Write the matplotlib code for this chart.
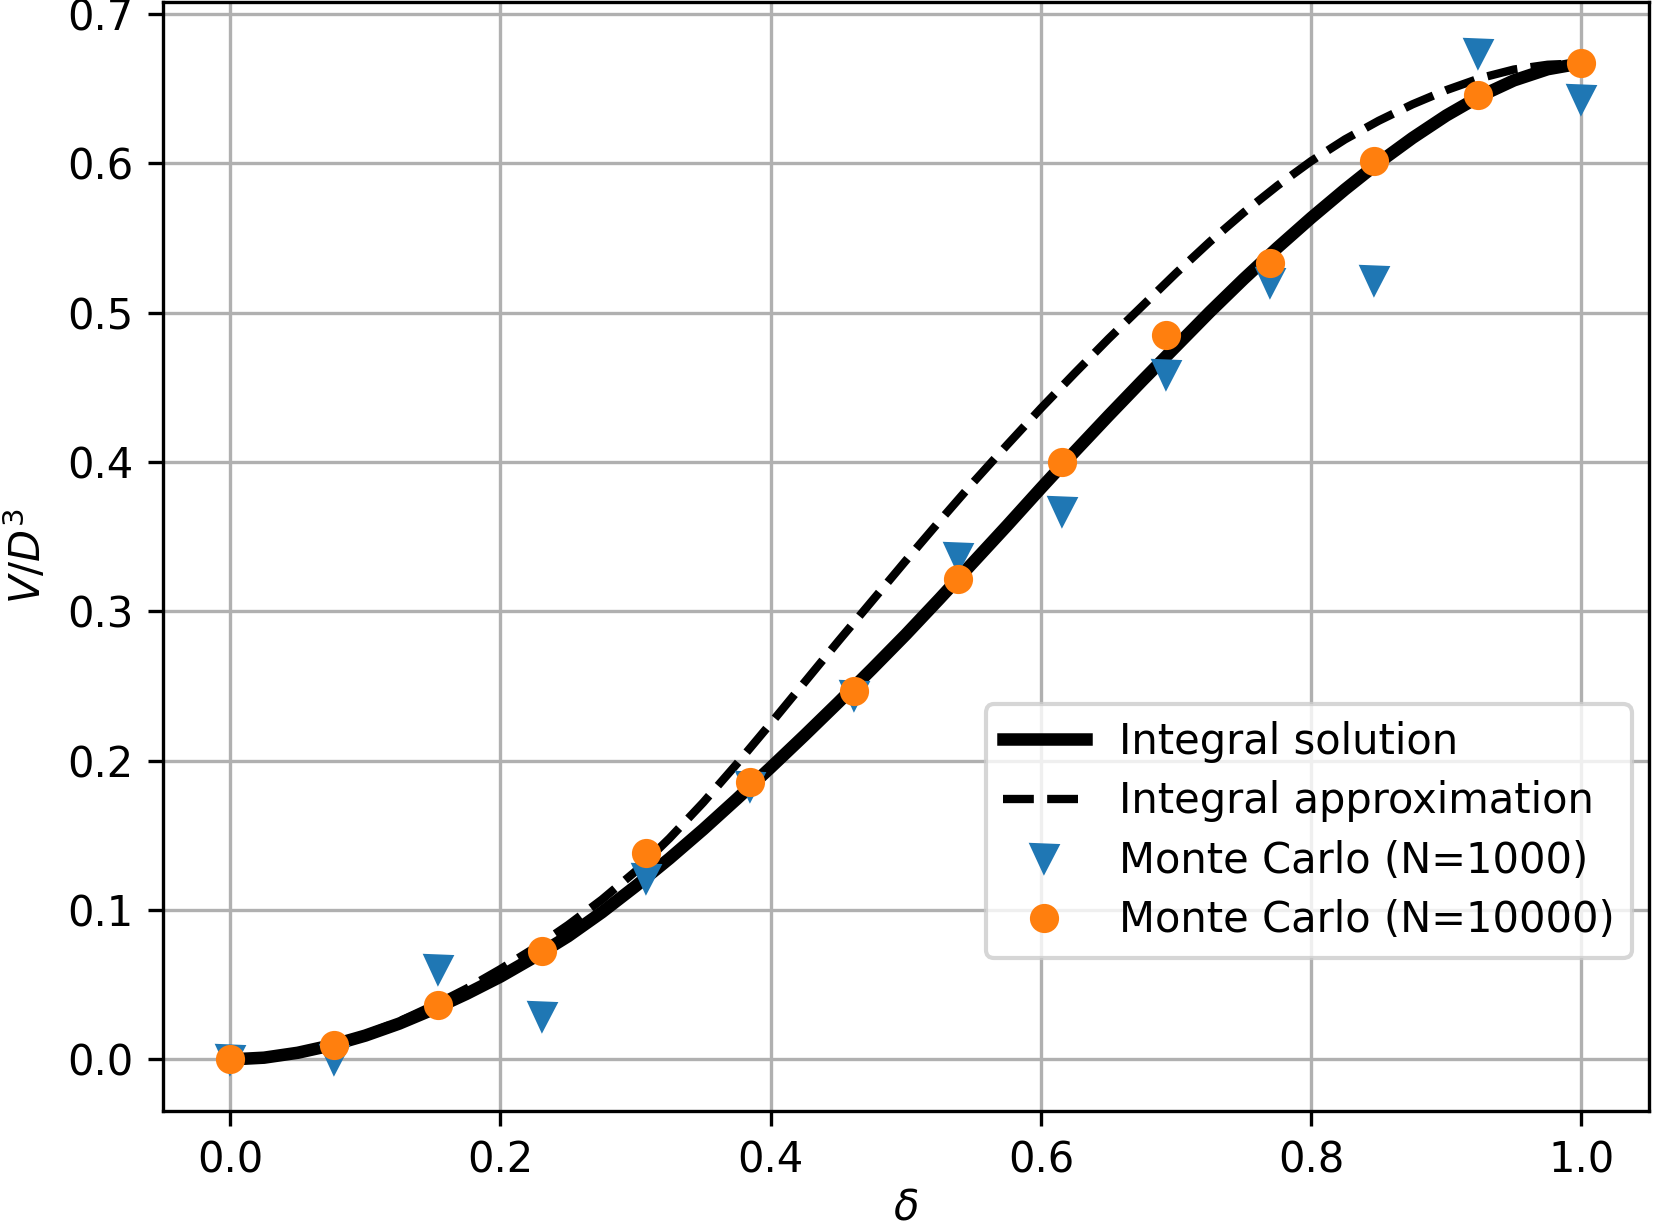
import matplotlib
matplotlib.use("Agg")
import matplotlib.pyplot as plt

# Curve samples
delta_curve = [0.0, 0.025, 0.05, 0.075, 0.1, 0.125, 0.15, 0.175, 0.2, 0.225,
               0.25, 0.275, 0.3, 0.325, 0.35, 0.375, 0.4, 0.425, 0.45, 0.475,
               0.5, 0.525, 0.55, 0.575, 0.6, 0.625, 0.65, 0.675, 0.7, 0.725,
               0.75, 0.775, 0.8, 0.825, 0.85, 0.875, 0.9, 0.925, 0.95, 0.975,
               1.0]
integral_solution = [0.0, 0.0012, 0.0045, 0.0095, 0.0160, 0.0240, 0.0335,
                     0.0440, 0.0555, 0.0685, 0.0825, 0.0985, 0.1160, 0.1345,
                     0.1540, 0.1745, 0.1955, 0.2170, 0.2390, 0.2615, 0.2845,
                     0.3085, 0.3330, 0.3575, 0.3825, 0.4070, 0.4310, 0.4545,
                     0.4775, 0.5005, 0.5225, 0.5435, 0.5635, 0.5825, 0.6005,
                     0.6170, 0.6320, 0.6450, 0.6555, 0.6630, 0.6670]
integral_approx = [0.0, 0.0012, 0.0046, 0.0098, 0.0168, 0.0255, 0.0360,
                   0.0475, 0.0605, 0.0745, 0.0900, 0.1070, 0.1260, 0.1480,
                   0.1720, 0.1980, 0.2250, 0.2525, 0.2800, 0.3070, 0.3340,
                   0.3605, 0.3865, 0.4115, 0.4360, 0.4595, 0.4825, 0.5045,
                   0.5265, 0.5475, 0.5670, 0.5850, 0.6015, 0.6160, 0.6285,
                   0.6395, 0.6490, 0.6570, 0.6628, 0.6660, 0.6670]

# Monte Carlo samples
delta_mc = [0.0, 0.0769, 0.1538, 0.2308, 0.3077, 0.3846, 0.4615, 0.5385,
            0.6154, 0.6923, 0.7692, 0.8462, 0.9231, 1.0]
mc_1000 = [0.0, 0.0, 0.0603, 0.0292, 0.1213, 0.1833, 0.244, 0.3362,
           0.3672, 0.4592, 0.5206, 0.5216, 0.6738, 0.643]
mc_10000 = [0.0, 0.0097, 0.0363, 0.0726, 0.138, 0.186, 0.2469, 0.3217,
            0.4003, 0.4851, 0.5331, 0.6018, 0.6458, 0.667]

fig = plt.figure(figsize=(1653 / 300, 1227 / 300), dpi=300)
ax = fig.add_axes([162.7 / 1653, 1 - 1110.7 / 1227,
                   (1649 - 162.7) / 1653, (1110.7 - 2) / 1227])

ax.plot(delta_curve, integral_solution, color="black", lw=3,
        label="Integral solution")
ax.plot(delta_curve, integral_approx, color="black", lw=2, ls="--",
        label="Integral approximation")
ax.plot(delta_mc, mc_1000, "v", color="#1f77b4", ms=6,
        label="Monte Carlo (N=1000)")
ax.plot(delta_mc, mc_10000, "o", color="#ff7f0e", ms=6,
        label="Monte Carlo (N=10000)")

ax.set_xlim(-0.05, 1.05)
ax.set_ylim(-0.0343, 0.708)
ax.set_xticks([0.0, 0.2, 0.4, 0.6, 0.8, 1.0])
ax.set_yticks([0.0, 0.1, 0.2, 0.3, 0.4, 0.5, 0.6, 0.7])
ax.grid(True)
ax.set_xlabel(r"$\delta$", labelpad=1)
ax.set_ylabel(r"$V/D^3$")
ax.legend(loc="lower right", bbox_to_anchor=(0.9883, 0.1377),
          borderaxespad=0, labelspacing=0.42)

fig.savefig("out.png", dpi=300)
